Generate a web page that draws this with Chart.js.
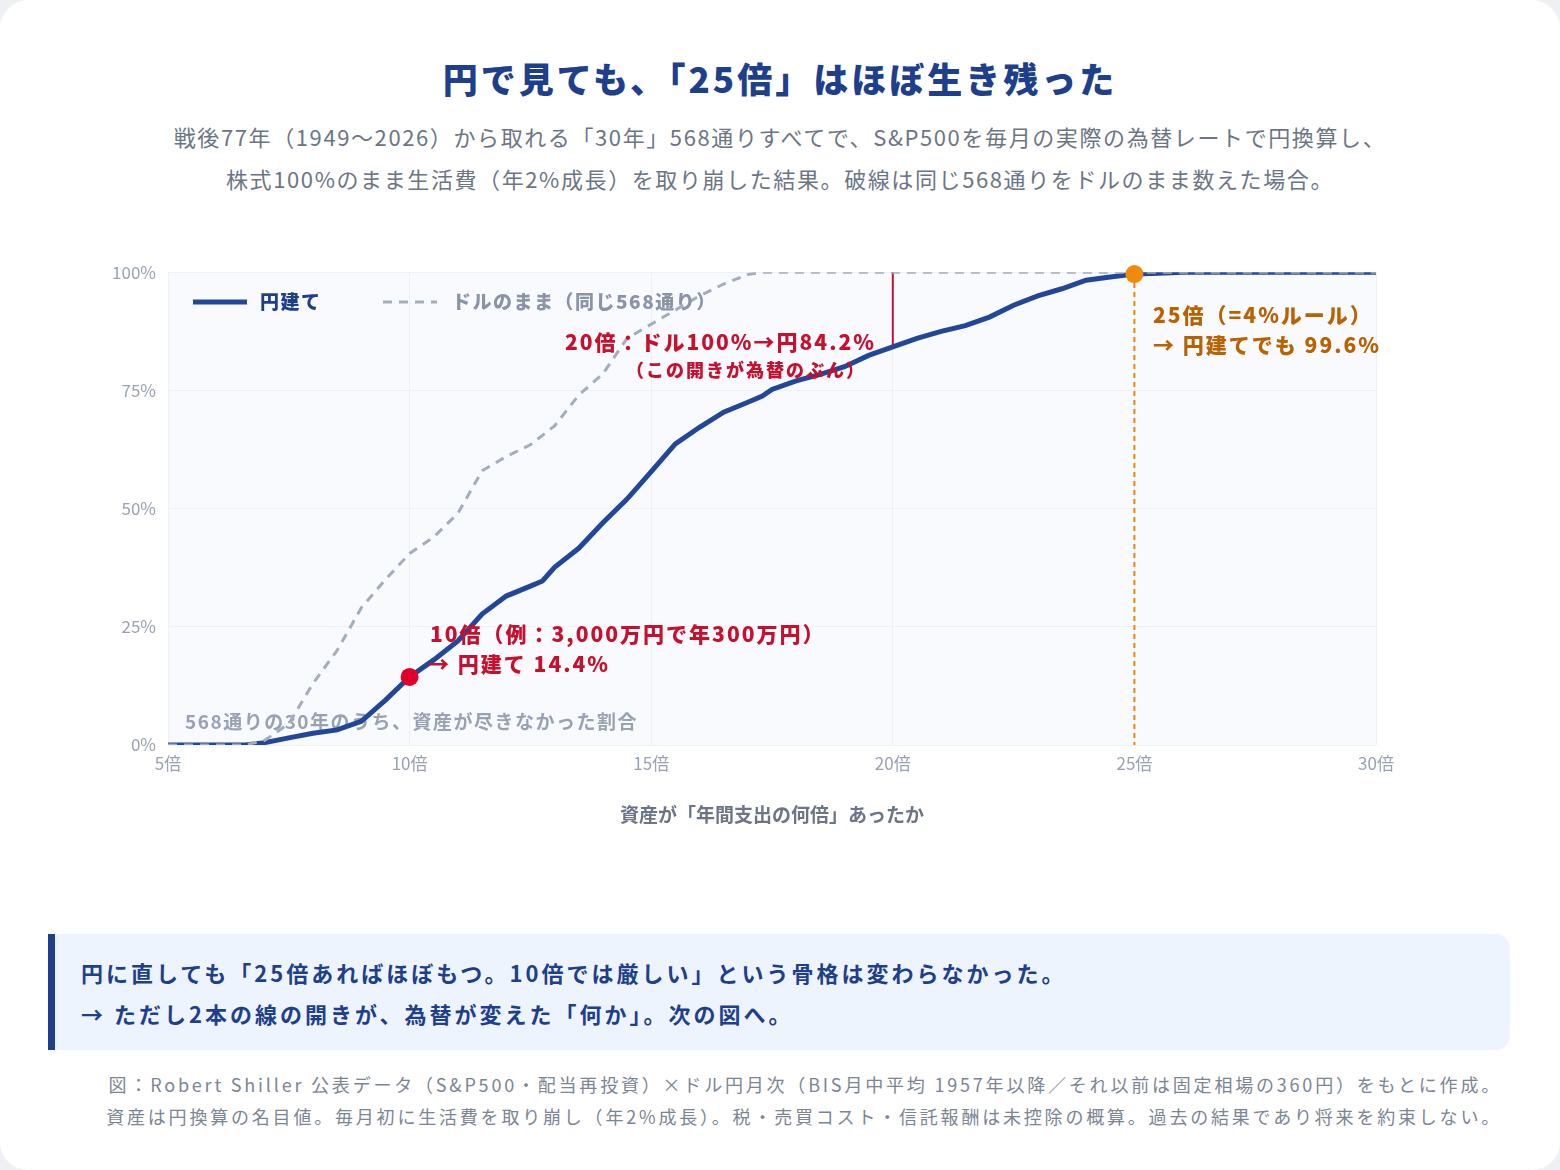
<!DOCTYPE html>
<html><head><meta charset="utf-8">
<script src="https://cdn.jsdelivr.net/npm/chart.js@4"></script>
<style>
body{margin:0;background:#eef0f3;font-family:"Noto Sans CJK JP","Noto Sans",sans-serif;}
.card{position:absolute;left:0;top:0;width:1560px;height:1170px;background:#fff;border-radius:28px;}
h1{position:absolute;top:52px;left:0;width:1560px;margin:0;text-align:center;font-size:35px;font-weight:900;color:#1e3f8c;letter-spacing:3px;}
.sub{position:absolute;top:115px;left:0;width:1560px;text-align:center;font-size:22px;letter-spacing:1.6px;line-height:42px;color:#6b7585;}
#wrap{position:absolute;left:90px;top:250px;width:1320px;height:580px;}
.note{position:absolute;left:48px;top:934px;width:1462px;height:116px;background:#eef4fd;border-left:7px solid #1e3f8c;border-radius:0 14px 14px 0;box-sizing:border-box;padding:18px 0 0 26px;font-size:22px;letter-spacing:3px;font-weight:700;color:#1e3f8c;line-height:41px;}
.foot{position:absolute;top:1068px;right:58px;text-align:right;font-size:18px;letter-spacing:2.8px;line-height:32px;color:#7b8594;}
</style></head><body>
<div class="card">
<h1>円で見ても、「25倍」はほぼ生き残った</h1>
<div class="sub">戦後77年（1949〜2026）から取れる「30年」568通りすべてで、S&amp;P500を毎月の実際の為替レートで円換算し、<br>株式100%のまま生活費（年2%成長）を取り崩した結果。破線は同じ568通りをドルのまま数えた場合。</div>
<div id="wrap"><canvas id="c"></canvas></div>
<div class="note">円に直しても「25倍あればほぼもつ。10倍では厳しい」という骨格は変わらなかった。<br>→ ただし2本の線の開きが、為替が変えた「何か」。次の図へ。</div>
<div class="foot">図：Robert Shiller 公表データ（S&amp;P500・配当再投資）×ドル円月次（BIS月中平均 1957年以降／それ以前は固定相場の360円）をもとに作成。<br>資産は円換算の名目値。毎月初に生活費を取り崩し（年2%成長）。税・売買コスト・信託報酬は未控除の概算。過去の結果であり将来を約束しない。</div>
</div>
<script>
const multiples = [5,6,6.6,7,7.5,8,8.5,9,9.5,10,10.5,11,11.5,12,12.5,12.75,13,13.5,14,14.5,15,15.5,16,16.5,17,17.3,17.5,18,18.5,19,19.5,20,20.5,21,21.5,22,22.5,23,23.5,24,24.5,25,25.5,26,27,28,29,30];
const yenPct = [0,0,0,0.5,1.5,2.5,3.2,5,9.5,14.4,18,22,27.7,31.5,33.6,34.7,37.6,41.6,47,52,57.8,63.7,67.2,70.4,72.5,73.8,75.2,77,78.4,80,82.4,84.2,86,87.5,88.7,90.5,93,95,96.5,98.3,99,99.6,99.8,100,100,100,100,100];
const dollarPct = [0,0,0,1,4.5,13,20,29,35,40.5,44,49,58,61,63.5,65.5,67.5,74,78.5,86,89,92,95,97.5,99.5,100,100,100,100,100,100,100,100,100,100,100,100,100,100,100,100,100,100,100,100,100,100,100];
const xTicks = [5,10,15,20,25,30];
const yTicks = [0,25,50,75,100];
const F = '"Noto Sans CJK JP","Noto Sans",sans-serif';

const overlay = {
  id: 'overlay',
  beforeDatasetsDraw(chart) {
    const {ctx, chartArea: a, scales: {x, y}} = chart;
    ctx.save();
    ctx.fillStyle = '#f8fafd';
    ctx.globalCompositeOperation = 'destination-over';
    ctx.fillRect(a.left, a.top, a.right - a.left, a.bottom - a.top);
    ctx.globalCompositeOperation = 'source-over';
    ctx.font = `700 19px ${F}`;
    ctx.letterSpacing = '1.5px';
    ctx.fillStyle = '#98a2b3';
    ctx.textBaseline = 'middle';
    ctx.fillText('568通りの30年のうち、資産が尽きなかった割合', a.left + 17, y.getPixelForValue(0) - 23);
    ctx.strokeStyle = '#c8102e'; ctx.lineWidth = 2;
    ctx.beginPath(); ctx.moveTo(x.getPixelForValue(20), y.getPixelForValue(84.2)); ctx.lineTo(x.getPixelForValue(20), y.getPixelForValue(100)); ctx.stroke();
    ctx.strokeStyle = '#e8870c'; ctx.setLineDash([5, 4]);
    ctx.beginPath(); ctx.moveTo(x.getPixelForValue(25), y.getPixelForValue(99.6)); ctx.lineTo(x.getPixelForValue(25), y.getPixelForValue(0)); ctx.stroke();
    ctx.restore();
  },
  afterDatasetsDraw(chart) {
    const {ctx, scales: {x, y}} = chart;
    ctx.save();
    const dot = (vx, vy, c) => { ctx.fillStyle = c; ctx.beginPath(); ctx.arc(x.getPixelForValue(vx), y.getPixelForValue(vy), 9, 0, Math.PI * 2); ctx.fill(); };
    dot(10, 14.4, '#e0002b');
    dot(25, 99.6, '#f08a0a');
    ctx.textBaseline = 'middle';
    ctx.letterSpacing = '2px';
    ctx.font = `800 21px ${F}`;
    ctx.fillStyle = '#c8102e';
    ctx.textAlign = 'left';
    ctx.fillText('10倍（例：3,000万円で年300万円）', 340, 384);
    ctx.fillText('→ 円建て 14.4%', 338, 414);
    ctx.textAlign = 'right';
    ctx.fillText('20倍：ドル100%→円84.2%', 786, 92);
    ctx.font = `800 18px ${F}`;
    ctx.fillText('（この開きが為替のぶん）', 776, 120);
    ctx.textAlign = 'left';
    ctx.font = `800 21px ${F}`;
    ctx.fillStyle = '#b86200';
    ctx.fillText('25倍（=4%ルール）', 1063, 65);
    ctx.fillText('→ 円建てでも 99.6%', 1063, 95);
    ctx.lineWidth = 5; ctx.strokeStyle = '#22479a';
    ctx.beginPath(); ctx.moveTo(103, 52); ctx.lineTo(157, 52); ctx.stroke();
    ctx.lineWidth = 3; ctx.strokeStyle = '#a4adbb'; ctx.setLineDash([9, 7]);
    ctx.beginPath(); ctx.moveTo(293, 52); ctx.lineTo(347, 52); ctx.stroke();
    ctx.font = `800 19px ${F}`;
    ctx.letterSpacing = '1.5px';
    ctx.fillStyle = '#1e3f8c'; ctx.fillText('円建て', 170, 52);
    ctx.fillStyle = '#8a94a6'; ctx.fillText('ドルのまま（同じ568通り）', 362, 52);
    ctx.restore();
  }
};

new Chart(document.getElementById('c'), {
  type: 'line',
  data: {
    datasets: [
      { label: 'ドルのまま', data: multiples.map((m, i) => ({x: m, y: dollarPct[i]})), borderColor: '#a4adbb', borderWidth: 3, borderDash: [9, 7], pointRadius: 0, tension: 0 },
      { label: '円建て', data: multiples.map((m, i) => ({x: m, y: yenPct[i]})), borderColor: '#22479a', borderWidth: 5, pointRadius: 0, tension: 0 }
    ]
  },
  options: {
    responsive: true, maintainAspectRatio: false, animation: false,
    layout: { padding: { top: 16, right: 34 } },
    plugins: { legend: { display: false }, tooltip: { enabled: false } },
    scales: {
      x: {
        type: 'linear', min: 5, max: 30,
        afterBuildTicks: s => { s.ticks = xTicks.map(v => ({value: v})); },
        afterFit: s => { s.height = 85; },
        grid: { color: '#edf0f5', drawTicks: false },
        border: { display: false },
        ticks: { color: '#98a2b3', font: { family: F, size: 17 }, padding: 8, callback: v => v + '倍' },
        title: { display: true, text: '資産が「年間支出の何倍」あったか', color: '#6b7585', font: { family: F, size: 19, weight: '700' }, padding: { top: 2 } }
      },
      y: {
        min: 0, max: 100,
        afterBuildTicks: s => { s.ticks = yTicks.map(v => ({value: v})); },
        afterFit: s => { s.width = 78; },
        grid: { color: '#edf0f5', drawTicks: false },
        border: { display: false },
        ticks: { color: '#98a2b3', font: { family: F, size: 17 }, padding: 12, callback: v => v + '%' }
      }
    }
  },
  plugins: [overlay]
});
</script>
</body></html>
